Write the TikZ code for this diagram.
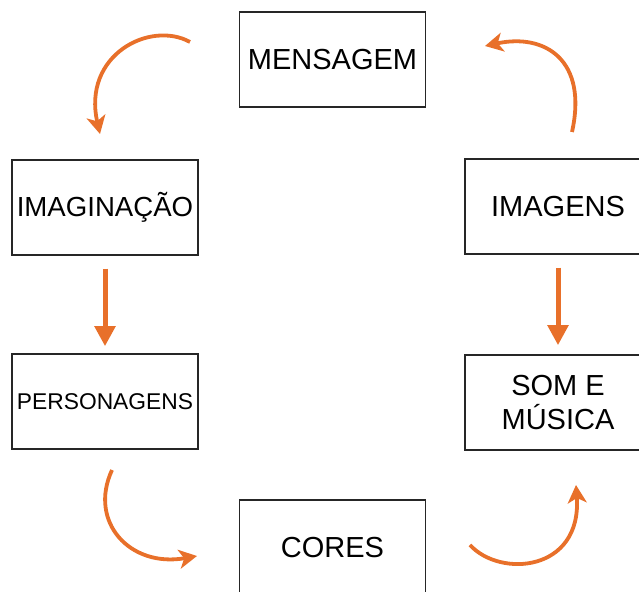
\documentclass[tikz,border=0pt]{standalone}
\usepackage{fontspec}
\setmainfont{Liberation Sans}
\usetikzlibrary{arrows.meta}

\definecolor{arrowOrange}{HTML}{E8702A}

\tikzset{
  box/.style={draw=black!85, line width=0.75pt, minimum width=93pt, minimum height=47.5pt,
    align=center, inner sep=0.5pt, font=\fontsize{14.5}{17}\selectfont},
  straightArrow/.style={arrowOrange, line width=2.5pt, -{Triangle[width=10pt,length=10pt]}},
  curvedArrow/.style={arrowOrange, line width=1.9pt, -{Stealth[width=9.5pt,length=9pt,inset=2.5pt]}},
}

\begin{document}
\begin{tikzpicture}[x=0.5pt, y=-0.5pt]
    \useasboundingbox (0,0) rectangle (639,592);
    \clip (0,0) rectangle (639,592);

    % Define the positions of the boxes
    \coordinate (mensagemPos) at (332.5, 59.5);
    \coordinate (imaginacaoPos) at (105, 207.5);
    \coordinate (personagensPos) at (105, 401.5);
    \coordinate (coresPos) at (332.5, 547.5);
    \coordinate (imagensPos) at (558, 206.5);
    \coordinate (somPos) at (558, 402.5);

    % Draw the boxes
    \node[box] (mensagem) at (mensagemPos) {MENSAGEM};
    \node[box, font=\fontsize{13.8}{17}\selectfont] (imaginacao) at (imaginacaoPos) {IMAGINAÇÃO};
    \node[box, font=\fontsize{11.4}{13}\selectfont] (personagens) at (personagensPos) {PERSONAGENS};
    \node[box] (cores) at (coresPos) {CORES};
    \node[box] (imagens) at (imagensPos) {IMAGENS};
    \node[box] (som) at (somPos) {SOM E\\MÚSICA};

    % Draw the straight arrows
    \draw[straightArrow, shorten <=6.5pt, shorten >=3.5pt] (imaginacao) -- (personagens);
    \draw[straightArrow, shorten <=6.5pt, shorten >=4.5pt] (imagens) -- (som);

    % Define the ends of the curved arrows
    \coordinate (topLeftStart) at (190, 42);
    \coordinate (topLeftEnd) at (100, 134);
    \coordinate (topRightStart) at (572, 132);
    \coordinate (topRightEnd) at (485, 46);
    \coordinate (bottomLeftStart) at (112, 470);
    \coordinate (bottomLeftEnd) at (197, 556);
    \coordinate (bottomRightStart) at (470, 545);
    \coordinate (bottomRightEnd) at (576, 485);

    % Draw the curved arrows
    \draw[curvedArrow] (topLeftStart) .. controls (150, 20) and (82, 55) .. (topLeftEnd);
    \draw[curvedArrow] (topRightStart) .. controls (588, 60) and (545, 33) .. (topRightEnd);
    \draw[curvedArrow] (bottomLeftStart) .. controls (88, 522) and (130, 568) .. (bottomLeftEnd);
    \draw[curvedArrow] (bottomRightStart) .. controls (500, 578) and (582, 572) .. (bottomRightEnd);
\end{tikzpicture}
\end{document}
